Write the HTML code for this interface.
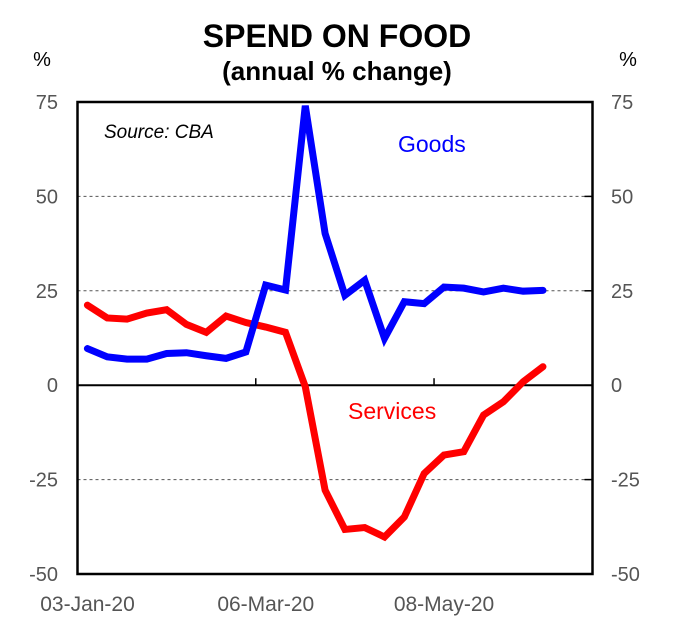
<!DOCTYPE html>
<html><head><meta charset="utf-8"><style>
body{margin:0;background:#fff;font-family:"Liberation Sans",Arial,sans-serif}
svg{display:block}
</style></head><body>
<svg id="chart" width="699" height="638">
<text x="337" y="47" text-anchor="middle" font-size="32" font-weight="bold">SPEND ON FOOD</text>
<text x="337" y="80" text-anchor="middle" font-size="26" font-weight="bold">(annual % change)</text>
<text x="42" y="66" text-anchor="middle" font-size="20">%</text>
<text x="628" y="66" text-anchor="middle" font-size="20">%</text>
<g id="grid"></g>
<g id="lines"></g>
<rect x="77.5" y="102" width="515" height="472" fill="none" stroke="#000" stroke-width="2.5"/>
<text x="104" y="138" font-size="19" font-style="italic">Source: CBA</text>
<text x="398" y="152" font-size="23" fill="#0000ff">Goods</text>
<text x="348" y="419" font-size="23" fill="#ff0000">Services</text>
</svg>
<script>
const categories=["03-Jan-20","10-Jan-20","17-Jan-20","24-Jan-20","31-Jan-20","07-Feb-20","14-Feb-20","21-Feb-20","28-Feb-20","06-Mar-20","13-Mar-20","20-Mar-20","27-Mar-20","03-Apr-20","10-Apr-20","17-Apr-20","24-Apr-20","01-May-20","08-May-20","15-May-20","22-May-20","29-May-20","05-Jun-20","12-Jun-20"];
const goods=[9.7,7.5,6.9,6.9,8.4,8.6,7.8,7.1,8.8,26.5,25.2,74,40.2,23.8,27.8,12.4,22.1,21.6,26,25.7,24.7,25.7,24.9,25.1];
const services=[21.2,17.8,17.5,19.1,20.0,16.1,14.0,18.3,16.6,15.4,14.0,-0.4,-27.8,-38.2,-37.7,-40.2,-34.9,-23.4,-18.5,-17.6,-7.9,-4.4,0.9,4.9];
const yTicks=[75,50,25,0,-25,-50];
const xTickLabels=["03-Jan-20","06-Mar-20","08-May-20"];
const xTickIdx=[0,9,18];
const NS="http://www.w3.org/2000/svg";
const L=77.5,R=592.5,T=102,B=574,nCat=26;
const step=(R-L)/nCat;
const xPos=i=>L+step*(i+0.5);
const yPos=v=>T+(75-v)/125*(B-T);
const grid=document.getElementById('grid'),lines=document.getElementById('lines');
function mk(tag,attrs,parent,txt){const e=document.createElementNS(NS,tag);for(const k in attrs)e.setAttribute(k,attrs[k]);if(txt!==undefined)e.textContent=txt;parent.appendChild(e);return e;}
yTicks.forEach(v=>{
  const y=yPos(v);
  if(v!==0&&v!==75&&v!==-50){const g=mk('line',{x1:L,x2:R,y1:y,y2:y,stroke:'#555','stroke-dasharray':'3,3','stroke-width':1},grid);
  
  }
  const t1=mk('line',{x1:R-8,x2:R,y1:y,y2:y,stroke:'#000','stroke-width':1.5},grid);
  
  
  const a=mk('text',{x:58,y:y+7,'text-anchor':'end','font-size':20,fill:'#555'},grid,String(v));
  
  
  const b=mk('text',{x:611,y:y+7,'text-anchor':'start','font-size':20,fill:'#555'},grid,String(v));
  
  
});
const z=mk('line',{x1:L,x2:R,y1:yPos(0),y2:yPos(0),stroke:'#000','stroke-width':2},grid);


xTickIdx.forEach((ix,k)=>{
  const x=L+step*ix;
  if(ix>0){const t=mk('line',{x1:x,x2:x,y1:yPos(0)-7,y2:yPos(0),stroke:'#000','stroke-width':1.5},grid);
  
  }
  const lb=mk('text',{x:x+10,y:611,'text-anchor':'middle','font-size':21,fill:'#555'},grid,xTickLabels[k]);
  
  
});
function series(vals,color,name){
  const p=mk('polyline',{points:vals.map((v,i)=>xPos(i)+','+yPos(v)).join(' '),fill:'none',stroke:color,'stroke-width':7,'stroke-linejoin':'miter','stroke-linecap':'round'},lines);
  
  
}
series(services,'#ff0000','services-line');
series(goods,'#0000ff','goods-line');
</script>
</body></html>
